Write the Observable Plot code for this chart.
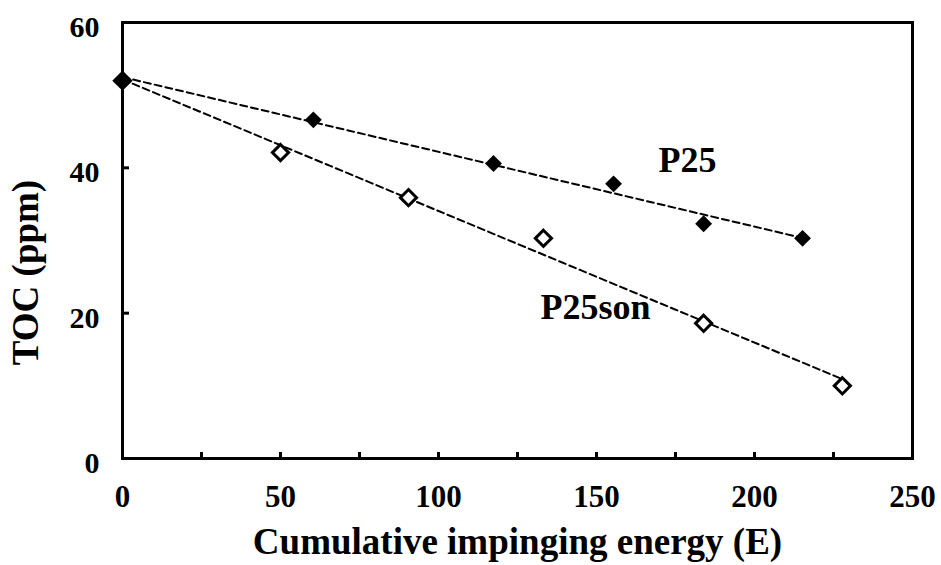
<!DOCTYPE html>
<html>
<head>
<meta charset="utf-8">
<script src="https://cdn.jsdelivr.net/npm/d3@7"></script>
<script src="https://cdn.jsdelivr.net/npm/@observablehq/plot@0.6"></script>
<style>
  html, body { margin: 0; padding: 0; background: #fff; }
  svg text { font-family: 'Liberation Serif', 'Times New Roman', serif !important; font-weight: bold !important; }
</style>
</head>
<body>
<div id="chart"></div>
<script>
// ---- data ----
const p25Energy = [0, 60.4, 117.4, 155.4, 183.9, 215.2];
const p25Toc    = [52.0, 46.6, 40.6, 37.8, 32.3, 30.3];
const sonEnergy = [0, 50.0, 90.5, 133.2, 183.9, 227.8];
const sonToc    = [52.0, 42.1, 35.9, 30.3, 18.6, 10.0];

const seriesNames  = ["P25", "P25son"];
const labelEnergy  = [178.8, 149.7];
const labelToc     = [41.0, 20.8];

const xTickValues  = [0, 50, 100, 150, 200, 250];
const xMinorValues = [0, 25, 50, 75, 100, 125, 150, 175, 200, 225, 250];
const yTickValues  = [0, 20, 40, 60];

const xTitle = "Cumulative impinging energy (E)";
const yTitle = "TOC (ppm)";

// ---- tables built from the arrays ----
const p25 = p25Energy.map((e, i) => ({energy: e, toc: p25Toc[i]}));
const son = sonEnergy.map((e, i) => ({energy: e, toc: sonToc[i]}));
const labels = seriesNames.map((n, i) => ({name: n, energy: labelEnergy[i], toc: labelToc[i]}));

const serif = "'Liberation Serif', 'Times New Roman', serif";

const chart = Plot.plot({
  width: 941,
  height: 565,
  marginLeft: 122,
  marginRight: 29,
  marginTop: 22,
  marginBottom: 107,
  style: {
    fontFamily: serif,
    fontWeight: "bold",
    background: "#fff",
    color: "#000"
  },
  x: {domain: [0, 250], axis: null},
  y: {domain: [0, 60], axis: null},
  marks: [
    Plot.linearRegressionY(p25, {x: "energy", y: "toc", ci: 0, stroke: "#000", strokeWidth: 2, strokeDasharray: "7,4"}),
    Plot.linearRegressionY(son, {x: "energy", y: "toc", ci: 0, stroke: "#000", strokeWidth: 2, strokeDasharray: "7,4"}),
    Plot.frame({stroke: "#000", strokeWidth: 3}),
    Plot.axisX(xMinorValues, {tickSize: -6, strokeWidth: 3, tickFormat: () => "", label: null}),
    Plot.axisX(xTickValues, {tickSize: 0, tickPadding: 26, fontSize: 31, fontFamily: serif, fontWeight: "bold", fill: "#000", label: null}),
    Plot.axisY(yTickValues, {tickSize: -7, strokeWidth: 3, tickFormat: () => "", label: null}),
    Plot.axisY(yTickValues, {tickSize: 0, tickPadding: 23, dy: 5, fontSize: 30, fontFamily: serif, fontWeight: "bold", fill: "#000", label: null}),
    Plot.dot(son, {x: "energy", y: "toc", symbol: "diamond2", r: 7.3, fill: "#fff", stroke: "#000", strokeWidth: 3}),
    Plot.dot(p25, {x: "energy", y: "toc", symbol: "diamond2", r: 7.6, fill: "#000", stroke: "none"}),
    Plot.text(labels, {x: "energy", y: "toc", text: "name", fontSize: 36, fontFamily: serif, fontWeight: "bold", fill: "#000"}),
    Plot.text([xTitle], {frameAnchor: "bottom", dy: 95, fontSize: 37, fontFamily: serif, fontWeight: "bold", fill: "#000"}),
    Plot.text([yTitle], {frameAnchor: "left", textAnchor: "middle", lineAnchor: "middle", dx: -96, dy: 32, rotate: -90, fontSize: 37, fontFamily: serif, fontWeight: "bold", fill: "#000"})
  ]
});
document.getElementById("chart").appendChild(chart);
</script>
</body>
</html>
